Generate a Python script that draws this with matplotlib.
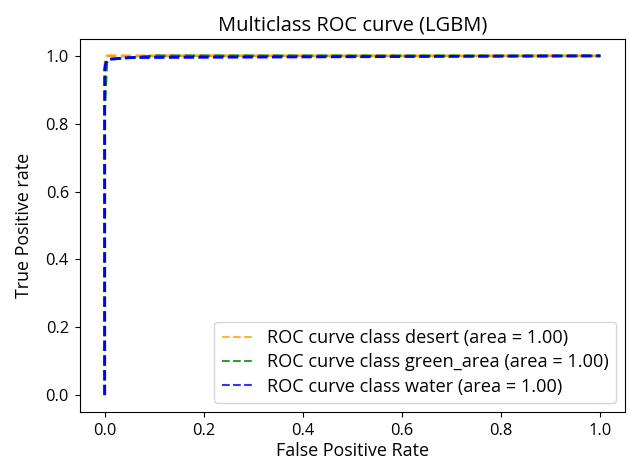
import matplotlib
matplotlib.use('Agg')
import matplotlib.pyplot as plt

# ROC curves (fpr, tpr)
fpr_desert = [0.0, 0.0, 0.002, 0.005, 1.0]
tpr_desert = [0.0, 0.97, 0.99, 1.0, 1.0]

fpr_green = [0.0, 0.0, 0.004, 0.01, 0.1, 1.0]
tpr_green = [0.0, 0.85, 0.98, 0.99, 1.0, 1.0]

fpr_water = [0.0, 0.0, 0.003, 0.01, 0.05, 1.0]
tpr_water = [0.0, 0.96, 0.985, 0.99, 0.995, 1.0]

labels = ['desert', 'green_area', 'water']
colors = ['orange', 'green', 'blue']
areas = [1.00, 1.00, 1.00]

plt.rcParams['font.family'] = ['Open Sans', 'DejaVu Sans']

fig = plt.figure(figsize=(6.29, 4.63), dpi=100)
ax = fig.add_axes([0.127, 0.110, 0.867, 0.806])

curves = [(fpr_desert, tpr_desert), (fpr_green, tpr_green), (fpr_water, tpr_water)]
for (fpr, tpr), name, c, a in zip(curves, labels, colors, areas):
    ax.plot(fpr, tpr, linestyle='--', color=c, lw=2,
            label='ROC curve class %s (area = %0.2f)' % (name, a))

ax.set_title('Multiclass ROC curve (LGBM)', fontsize=14.5)
ax.set_xlabel('False Positive Rate', fontsize=12.9, labelpad=2)
ax.set_ylabel('True Positive rate', fontsize=12.9, labelpad=9)
ax.tick_params(labelsize=11.8, pad=4.5)
leg = ax.legend(loc='lower right', fontsize=13.1, handlelength=1.8,
                handletextpad=0.7, labelspacing=0.35)
for h in leg.get_lines():
    h.set_linewidth(1.5)
    h.set_alpha(0.8)

fig.savefig('out.png', dpi=100)
